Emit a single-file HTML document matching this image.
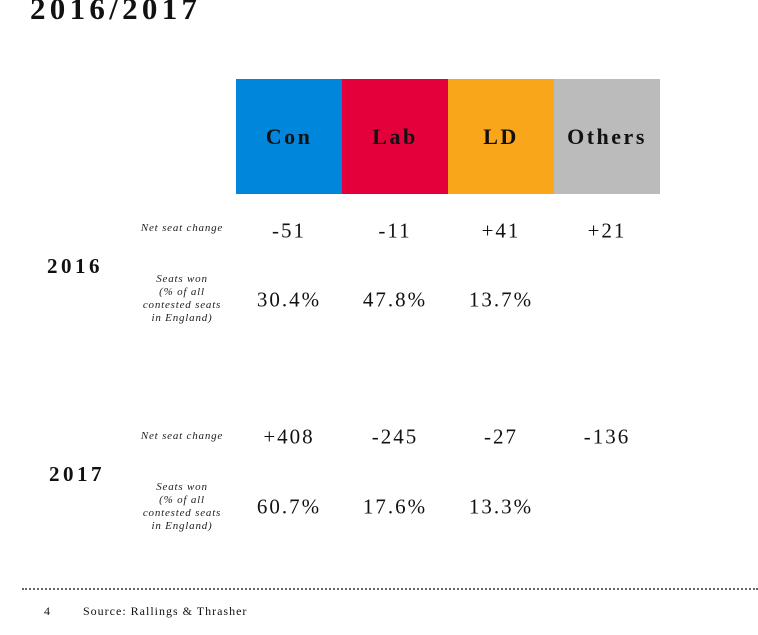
<!DOCTYPE html>
<html><head><meta charset="utf-8"><style>
body{margin:0;width:758px;height:635px;background:#fff;overflow:hidden;position:relative;font-family:"Liberation Serif",serif;color:#111}
.a{position:absolute;white-space:nowrap}
.hdr{position:absolute;top:79px;height:115px;width:106px;display:flex;align-items:center;justify-content:center;font-weight:bold;font-size:22px;letter-spacing:2.5px;color:#111}
.val{position:absolute;width:106px;text-align:center;font-size:21px;letter-spacing:2px;transform:translateY(-50%)}
.lab{position:absolute;width:110px;text-align:center;font-style:italic;font-size:11px;letter-spacing:0.8px;line-height:13px;color:#222}
.yr{position:absolute;font-weight:bold;font-size:21px;letter-spacing:3.5px}
</style></head><body>
<div class="a" style="left:30px;top:-9px;font-size:31px;font-weight:bold;letter-spacing:4.3px">2016/2017</div>
<div class="lab" style="left:127px;top:222px">Net seat change</div>
<div class="lab" style="left:127px;top:273px">Seats won<br>(% of all<br>contested seats<br>in England)</div>
<div class="lab" style="left:127px;top:430px">Net seat change</div>
<div class="lab" style="left:127px;top:481px">Seats won<br>(% of all<br>contested seats<br>in England)</div>
<div class="yr" style="left:47px;top:254px">2016</div>
<div class="yr" style="left:49px;top:462px">2017</div>
<div class="a" style="left:22px;top:588px;width:736px;border-top:2px dotted #666"></div>
<div class="a" style="left:44px;top:604px;font-size:12px">4</div>
<div class="a" style="left:83px;top:604px;font-size:12px;letter-spacing:1px">Source: Rallings &amp; Thrasher</div>
<script>
const parties=["Con","Lab","LD","Others"];
const colors=["#0087DC","#E4003B","#FAA61A","#BBBBBB"];
const net2016=["-51","-11","+41","+21"];
const won2016=["30.4%","47.8%","13.7%",""];
const net2017=["+408","-245","-27","-136"];
const won2017=["60.7%","17.6%","13.3%",""];
const x0=236,w=106;
parties.forEach((p,i)=>{
  const h=document.createElement('div');h.className='hdr';
  h.style.left=(x0+i*w)+'px';h.style.background=colors[i];h.textContent=p;
  
  
  document.body.appendChild(h);
  [[net2016,231,'net-2016'],[won2016,300,'won-2016'],[net2017,437,'net-2017'],[won2017,507,'won-2017']].forEach(([arr,y,n])=>{
    if(!arr[i])return;
    const v=document.createElement('div');v.className='val';
    v.style.left=(x0+i*w)+'px';v.style.top=y+'px';v.textContent=arr[i];
    
    
    document.body.appendChild(v);
  });
});
</script>
</body></html>
